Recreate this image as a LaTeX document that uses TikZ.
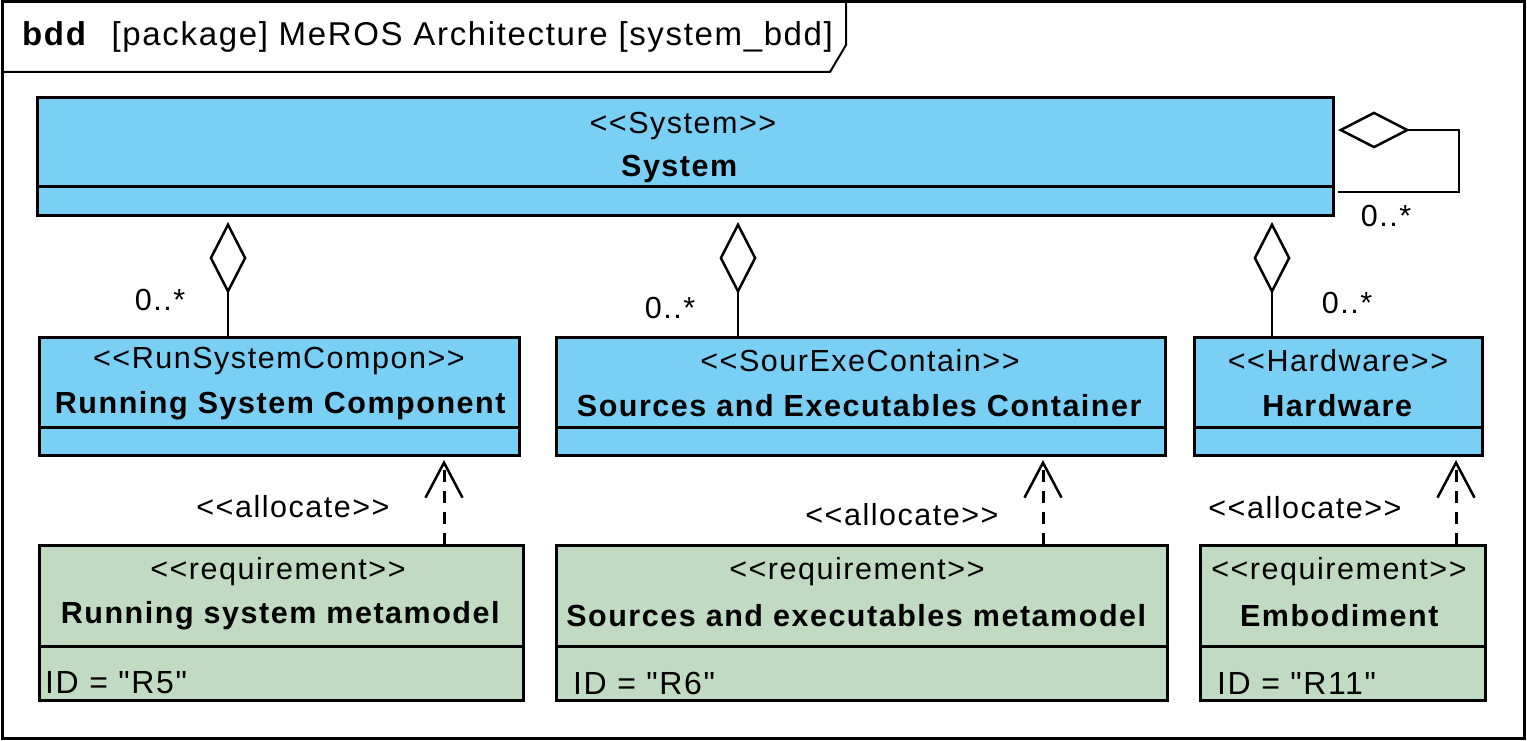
\documentclass[tikz,border=0pt]{standalone}
\usepackage{fontspec}
\setmainfont{Liberation Sans}[Ligatures=TeXOff, LetterSpace=5]
\usetikzlibrary{arrows.meta}
\definecolor{sysblue}{HTML}{7ACFF4}
\definecolor{reqgreen}{HTML}{C1DBC2}
\begin{document}
\begin{tikzpicture}[x=1pt,y=-1pt,
  font=\fontsize{30.5}{36}\selectfont,
  box/.style={draw, line width=3pt, anchor=north west, inner sep=0pt, outer sep=0pt},
  blk/.style={box, fill=sysblue},
  req/.style={box, fill=reqgreen},
  divline/.style={line width=3pt},
  txt/.style={inner sep=0pt},
  idtxt/.style={txt, anchor=west, font=\fontsize{32}{38}\selectfont},
  agg/.style={line width=2.5pt, {Diamond[open,length=72pt,width=37pt,line width=2.5pt]}-},
  alloc/.style={line width=3pt, dash pattern=on 12pt off 9pt, -{Straight Barb[length=35pt,width=37pt,line width=2.5pt]}}
]
\useasboundingbox (0,0) rectangle (1527,741);
\fill[white] (0,0) rectangle (1527,741);
% frame
\draw[line width=3pt] (2,2) rectangle (1524,738);
\draw[line width=2pt] (2,72) -- (830,72) -- (846,45) -- (846,2);
\node[txt, anchor=west, font=\fontsize{33}{40}\selectfont] (title) at (22,37) {\textbf{bdd}\hspace{0.4em} [package] MeROS Architecture [system\_bdd]};

% System
\node[blk, minimum width=1296pt, minimum height=117pt] (sys) at (37,98) {};
\draw[divline] (37,187) -- (1333,187);
\node[txt] (sysst) at (683,126) {<<System>>};
\node[txt] (sysnm) at (680,169) {\textbf{System}};

% Row 2
\node[blk, minimum width=480pt, minimum height=118pt] (rsc) at (39,337) {};
\draw[divline] (39,427) -- (519,427);
\node[txt] (rscst) at (279,361) {<<RunSystemCompon>>};
\node[txt] (rscnm) at (281,406) {\textbf{Running System Component}};

\node[blk, minimum width=609pt, minimum height=118pt] (sec) at (556,337) {};
\draw[divline] (556,427) -- (1165,427);
\node[txt] (secst) at (860,361) {<<SourExeContain>>};
\node[txt] (secnm) at (860,406) {\textbf{Sources and Executables Container}};

\node[blk, minimum width=288pt, minimum height=118pt] (hw) at (1194,337) {};
\draw[divline] (1194,427) -- (1482,427);
\node[txt] (hwst) at (1338,361) {<<Hardware>>};
\node[txt] (hwnm) at (1338,406) {\textbf{Hardware}};

% Row 3 requirements
\node[req, minimum width=484pt, minimum height=155pt] (r1) at (39,545) {};
\draw[divline] (39,646) -- (523,646);
\node[txt] (r1st) at (278,572) {<<requirement>>};
\node[txt] (r1nm) at (281,616) {\textbf{Running system metamodel}};
\node[idtxt] (r1id) at (45,683) {ID = "R5"};

\node[req, minimum width=611pt, minimum height=155pt] (r2) at (556,545) {};
\draw[divline] (556,646) -- (1167,646);
\node[txt] (r2st) at (857,572) {<<requirement>>};
\node[txt] (r2nm) at (857,616) {\textbf{Sources and executables metamodel}};
\node[idtxt] (r2id) at (573,683) {ID = "R6"};

\node[req, minimum width=285pt, minimum height=155pt] (r3) at (1200,545) {};
\draw[divline] (1200,646) -- (1485,646);
\node[txt] (r3st) at (1339,572) {<<requirement>>};
\node[txt] (r3nm) at (1340,616) {\textbf{Embodiment}};
\node[idtxt] (r3id) at (1217,683) {ID = "R11"};

% aggregation connectors
\coordinate (ax1) at (228,0);
\coordinate (ax2) at (738,0);
\coordinate (ax3) at (1272,0);
\draw[agg] ([yshift=-7pt]ax1 |- sys.south) -- (ax1 |- rsc.north);
\draw[agg] ([yshift=-7pt]ax2 |- sys.south) -- (ax2 |- sec.north);
\draw[agg] ([yshift=-7pt]ax3 |- sys.south) -- (ax3 |- hw.north);
\node[txt] (m1) at (160,300) {0..*};
\node[txt] (m2) at (670,308) {0..*};
\node[txt] (m3) at (1347,303) {0..*};

% self aggregation
\coordinate (sa) at (0,130);
\coordinate (sb) at (0,192);
\draw[agg] ([xshift=5pt]sys.east |- sa) -- (1459,130) -- (1459,192) -- ([xshift=5pt]sys.east |- sb);
\node[txt] (m4) at (1386,216) {0..*};

% allocate connectors
\coordinate (lx1) at (444,0);
\coordinate (lx2) at (1043,0);
\coordinate (lx3) at (1456,0);
\draw[alloc] (lx1 |- r1.north) -- ([yshift=-5pt]lx1 |- rsc.south);
\draw[alloc] (lx2 |- r2.north) -- ([yshift=-5pt]lx2 |- sec.south);
\draw[alloc] (lx3 |- r3.north) -- ([yshift=-5pt]lx3 |- hw.south);
\node[txt] (al1) at (293,507) {<<allocate>>};
\node[txt] (al2) at (902,515) {<<allocate>>};
\node[txt] (al3) at (1305,508) {<<allocate>>};
\end{tikzpicture}
\end{document}
